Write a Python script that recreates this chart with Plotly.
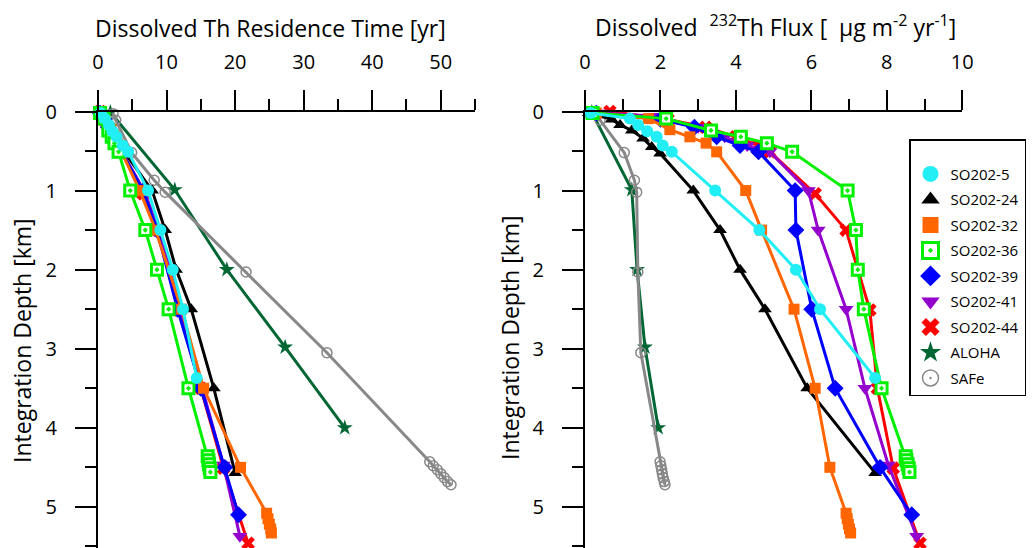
import plotly.graph_objects as go

# ---------------- data ----------------
stations = ["SO202-5", "SO202-24", "SO202-32", "SO202-36", "SO202-39",
            "SO202-41", "SO202-44", "ALOHA", "SAFe"]

depth_so5 = [0.02, 0.09, 0.17, 0.25, 0.32, 0.43, 0.51, 1.0, 1.5, 2.0, 2.5, 3.37]
flux_so5 = [0.15, 1.19, 1.41, 1.65, 1.9, 2.06, 2.3, 3.45, 4.62, 5.59, 6.23, 7.69]
tau_so5 = [0.4, 1.0, 1.6, 2.1, 2.7, 3.6, 4.4, 7.3, 9.1, 10.9, 12.4, 14.4]

depth_so24 = [0.02, 0.1, 0.17, 0.24, 0.34, 0.45, 0.53, 1.0, 1.5, 2.0, 2.5, 3.5, 4.57]
flux_so24 = [0.1, 0.71, 0.93, 1.24, 1.54, 1.77, 1.99, 2.87, 3.58, 4.11, 4.77, 5.89, 7.69]
tau_so24 = [0.3, 1.0, 1.5, 2.0, 2.7, 3.4, 4.0, 7.9, 9.8, 11.4, 13.6, 16.9, 20.0]

depth_so32 = [0.02, 0.09, 0.23, 0.32, 0.40, 0.51, 1.0, 1.5, 2.5, 3.5, 4.5,
              5.08, 5.15, 5.22, 5.28, 5.33]
flux_so32 = [0.3, 1.68, 2.25, 2.78, 3.21, 3.49, 4.26, 4.68, 5.54, 6.1, 6.49,
             6.92, 6.95, 6.98, 7.01, 7.04]
tau_so32 = [0.3, 1.0, 1.9, 2.4, 2.8, 3.4, 6.1, 8.4, 12.2, 15.4, 20.8,
            24.6, 24.8, 25.0, 25.2, 25.3]

depth_so36 = [0.02, 0.09, 0.24, 0.32, 0.40, 0.51, 1.0, 1.5, 2.0, 2.5, 3.5,
              4.36, 4.41, 4.46, 4.51, 4.56]
flux_so36 = [0.2, 2.15, 3.34, 4.13, 4.82, 5.49, 6.96, 7.18, 7.23, 7.39, 7.86,
             8.50, 8.52, 8.55, 8.58, 8.60]
tau_so36 = [0.3, 0.8, 1.5, 2.0, 2.4, 3.0, 4.7, 6.9, 8.6, 10.3, 13.2,
            16.0, 16.1, 16.2, 16.3, 16.4]

depth_so39 = [0.02, 0.1, 0.2, 0.32, 0.43, 0.51, 1.0, 1.5, 2.5, 3.5, 4.5, 5.1]
flux_so39 = [0.3, 2.0, 2.9, 3.49, 4.11, 4.6, 5.57, 5.59, 6.01, 6.63, 7.82, 8.66]
tau_so39 = [0.3, 0.9, 1.5, 2.2, 2.9, 3.4, 6.6, 8.6, 11.6, 15.0, 18.5, 20.5]

depth_so41 = [0.02, 0.06, 0.2, 0.32, 0.43, 0.51, 1.0, 1.5, 2.5, 3.5, 4.47, 5.37]
flux_so41 = [0.4, 1.9, 3.0, 3.7, 4.3, 4.9, 5.92, 6.18, 6.92, 7.42, 8.04, 8.79]
tau_so41 = [0.3, 0.7, 1.6, 2.3, 2.9, 3.5, 6.7, 8.9, 12.0, 15.2, 18.3, 20.7]

depth_so44 = [0.0, 0.1, 0.2, 0.32, 0.43, 0.51, 1.04, 1.5, 2.51, 3.5, 4.51, 5.46]
flux_so44 = [0.66, 2.2, 3.2, 4.0, 4.6, 4.9, 6.1, 6.92, 7.55, 7.75, 8.17, 8.88]
tau_so44 = [0.3, 0.8, 1.6, 2.2, 2.8, 3.4, 6.6, 8.7, 11.8, 15.0, 18.3, 21.9]

depth_aloha = [0.01, 0.99, 2.0, 2.98, 4.0]
flux_aloha = [0.18, 1.24, 1.38, 1.59, 1.94]
tau_aloha = [1.8, 11.2, 18.8, 27.3, 36.0]

depth_safe = [0.03, 0.11, 0.52, 0.87, 1.02, 2.03, 3.05,
              4.43, 4.48, 4.53, 4.58, 4.63, 4.68, 4.72]
flux_safe = [0.13, 0.4, 1.04, 1.31, 1.37, 1.4, 1.48,
             1.99, 2.01, 2.03, 2.05, 2.07, 2.10, 2.12]
tau_safe = [2.2, 2.6, 4.9, 8.2, 9.8, 21.6, 33.4,
            48.4, 48.9, 49.5, 50.0, 50.5, 51.0, 51.5]

x_left_ticks = [0, 10, 20, 30, 40, 50]
x_right_ticks = [0, 2, 4, 6, 8, 10]
y_ticks = [0, 1, 2, 3, 4, 5]

# ---------------- styles ----------------
styles = {
    "SO202-5": dict(color="#22EEF5", symbol="circle", size=12, lc="#22EEF5", lw=0),
    "SO202-24": dict(color="black", symbol="triangle-up", size=12, lc="black", lw=0),
    "SO202-32": dict(color="#FF6600", symbol="square", size=11, lc="#FF6600", lw=0),
    "SO202-36": dict(color="white", symbol="square-dot", size=11, lc="#00F000", lw=3),
    "SO202-39": dict(color="#0000FF", symbol="diamond", size=13, lc="#0000FF", lw=0),
    "SO202-41": dict(color="#9400CC", symbol="triangle-down", size=13, lc="#9400CC", lw=0),
    "SO202-44": dict(color="#FF0000", symbol="x", size=12, lc="#FF0000", lw=0),
    "ALOHA": dict(color="#006633", symbol="star", size=12, lc="#006633", lw=0),
    "SAFe": dict(color="rgba(0,0,0,0)", symbol="circle-open-dot", size=10, lc="#888888", lw=1.5),
}
line_colors = {"SO202-36": "#00F000", "SAFe": "#888888"}

data = {
    "SO202-5": (depth_so5, flux_so5, tau_so5),
    "SO202-24": (depth_so24, flux_so24, tau_so24),
    "SO202-32": (depth_so32, flux_so32, tau_so32),
    "SO202-36": (depth_so36, flux_so36, tau_so36),
    "SO202-39": (depth_so39, flux_so39, tau_so39),
    "SO202-41": (depth_so41, flux_so41, tau_so41),
    "SO202-44": (depth_so44, flux_so44, tau_so44),
    "ALOHA": (depth_aloha, flux_aloha, tau_aloha),
    "SAFe": (depth_safe, flux_safe, tau_safe),
}

draw_order = ["ALOHA", "SAFe", "SO202-44", "SO202-41", "SO202-24",
              "SO202-39", "SO202-32", "SO202-36", "SO202-5"]

fig = go.Figure()


def marker_for(name, size=None):
    s = styles[name]
    if name == "SAFe":
        return dict(symbol=s["symbol"], size=size or s["size"], color=s["lc"],
                    line=dict(color=s["lc"], width=s["lw"]))
    return dict(symbol=s["symbol"], size=size or s["size"], color=s["color"],
                line=dict(color=s["lc"], width=s["lw"]))


for name in draw_order:
    d, f, t = data[name]
    lc = line_colors.get(name, styles[name]["color"])
    for xs, xa, ya in ((t, "x", "y"), (f, "x2", "y2")):
        fig.add_trace(go.Scatter(
            x=xs, y=d, xaxis=xa, yaxis=ya, mode="lines+markers",
            line=dict(color=lc, width=3), marker=marker_for(name),
            showlegend=False, cliponaxis=False, name=name))

# legend entries (marker only)
for i, name in enumerate(stations):
    fig.add_trace(go.Scatter(
        x=[None], y=[None], xaxis="x2", yaxis="y2", mode="markers",
        marker=marker_for(name, size=16), name=name, legendgroup=name,
        showlegend=True))

W, H = 1032, 548
FONT = "Open Sans, Noto Sans, sans-serif"
y_top = 1 - 111.5 / H

common_x = dict(side="top", showline=True, linecolor="black", linewidth=2,
                ticks="outside", ticklen=20, tickwidth=2, tickcolor="black",
                showgrid=False, zeroline=False, ticklabelstandoff=13,
                tickfont=dict(size=20, color="black", family=FONT))
common_y = dict(showline=True, linecolor="black", linewidth=2,
                ticks="outside", ticklen=21, tickwidth=2, tickcolor="black",
                showgrid=False, zeroline=False, range=[5.52, 0],
                domain=[0, y_top], tickvals=y_ticks, ticklabelstandoff=14,
                minor=dict(dtick=0.5, ticks="outside", ticklen=11, tickwidth=2,
                           tickcolor="black", showgrid=False),
                tickfont=dict(size=20, color="black", family=FONT))

title_font = dict(size=23, family=FONT, color="black")

fig.update_layout(
    width=W, height=H,
    margin=dict(l=0, r=0, t=0, b=0, autoexpand=False),
    paper_bgcolor="white", plot_bgcolor="white",
    font=dict(family=FONT, color="black"),
    xaxis=dict(common_x, domain=[98 / W, 475 / W], range=[0, 55], anchor="y",
               tickvals=x_left_ticks,
               minor=dict(dtick=5, ticks="outside", ticklen=11, tickwidth=2,
                          tickcolor="black", showgrid=False)),
    yaxis=dict(common_y, anchor="x"),
    xaxis2=dict(common_x, domain=[585 / W, 962.3 / W], range=[0, 10], anchor="y2",
                tickvals=x_right_ticks,
                minor=dict(dtick=1, ticks="outside", ticklen=11, tickwidth=2,
                           tickcolor="black", showgrid=False)),
    yaxis2=dict(common_y, anchor="x2"),
    legend=dict(x=909 / W, y=1 - 139.3 / H, xanchor="left", yanchor="top",
                bordercolor="black", borderwidth=1.5, bgcolor="white",
                font=dict(size=15, color="black", family=FONT),
                title=dict(text=" ", font=dict(size=13)),
                tracegroupgap=3, itemsizing="trace", traceorder="grouped"),
    annotations=[
        dict(text="Dissolved Th Residence Time [yr]", x=270 / W, y=1 - 28 / H,
             xref="paper", yref="paper", showarrow=False, xanchor="center",
             yanchor="middle", font=title_font),
        dict(text="Dissolved  <sup>232</sup>Th Flux [  µg m<sup>-2</sup> yr<sup>-1</sup>]",
             x=775 / W, y=1 - 26 / H, xref="paper", yref="paper", showarrow=False,
             xanchor="center", yanchor="middle", font=title_font),
        dict(text="Integration Depth [km]", x=22 / W, y=1 - 341 / H, textangle=-90,
             xref="paper", yref="paper", showarrow=False, xanchor="center",
             yanchor="middle", font=title_font),
        dict(text="Integration Depth [km]", x=510 / W, y=1 - 338 / H, textangle=-90,
             xref="paper", yref="paper", showarrow=False, xanchor="center",
             yanchor="middle", font=title_font),
    ],
)

fig.write_html("out.html")
